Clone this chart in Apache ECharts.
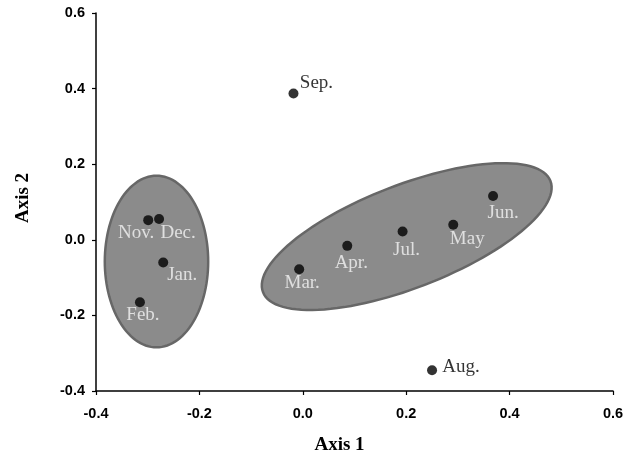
<!DOCTYPE html>
<html>
<head>
<meta charset="utf-8">
<script src="https://cdn.jsdelivr.net/npm/echarts@6/dist/echarts.min.js"></script>
<style>
  html, body { margin: 0; padding: 0; background: #fff; }
  #chart { width: 636px; height: 454px; }
</style>
</head>
<body>
<div id="chart"></div>
<script>
// points (month, axis 1, axis 2)
const months = ["Sep.", "Nov.", "Dec.", "Jan.", "Feb.", "Mar.", "Apr.", "Jul.", "May", "Jun.", "Aug."];
const axis1 = [-0.018, -0.299, -0.278, -0.270, -0.315, -0.007, 0.086, 0.193, 0.291, 0.368, 0.250];
const axis2 = [0.387, 0.052, 0.055, -0.060, -0.165, -0.078, -0.016, 0.022, 0.040, 0.116, -0.345];

// group ellipses: centre + two conjugate half-axes, in data units
const ellipseCenters = [[-0.283, -0.0575], [0.201, 0.0085]];
const ellipseU = [[0.100, 0], [0.278, 0.147]];
const ellipseV = [[0, 0.227], [0.036, -0.127]];

// label placement (pixels, relative to the dot)
const labelOffsets = {
  "Sep.": [23, -10], "Nov.": [-12, 13], "Dec.": [19, 14], "Jan.": [19, 13],
  "Feb.": [3, 13], "Mar.": [3, 14], "Apr.": [4, 17], "Jul.": [4, 19],
  "May": [14, 14], "Jun.": [10, 17], "Aug.": [29, -3]
};
const outside = ["Sep.", "Aug."];

const chart = echarts.init(document.getElementById("chart"));

const points = months.map(function (m, i) {
  return {
    value: [axis1[i], axis2[i]],
    name: m,
    label: {
      offset: labelOffsets[m],
      color: outside.indexOf(m) >= 0 ? "#000" : "#f4f4f4"
    }
  };
});

const axisCommon = {
  type: "value",
  min: -0.4,
  max: 0.6,
  interval: 0.2,
  splitLine: { show: false },
  axisLine: { show: true, onZero: false, lineStyle: { color: "#000", width: 1.5 } },
  axisTick: { show: true, length: 4, lineStyle: { color: "#000", width: 1.2 } },
  axisLabel: {
    color: "#000",
    fontFamily: "Liberation Sans, Arial, sans-serif",
    fontWeight: "bold",
    fontSize: 14.5,
    formatter: function (v) { return v.toFixed(1); }
  },
  nameLocation: "middle",
  nameTextStyle: {
    color: "#000",
    fontFamily: "Liberation Serif, Times New Roman, serif",
    fontWeight: "bold",
    fontSize: 19
  }
};

const option = {
  animation: false,
  backgroundColor: "#fff",
  grid: { left: 96, right: 23, top: 13, bottom: 63, outerBoundsMode: "none" },
  xAxis: Object.assign({}, axisCommon, {
    name: "Axis 1",
    nameGap: 45,
    axisLabel: Object.assign({}, axisCommon.axisLabel, { margin: 15 }),
    nameTextStyle: Object.assign({}, axisCommon.nameTextStyle, { padding: [0, 30, 0, 0] })
  }),
  yAxis: Object.assign({}, axisCommon, {
    name: "Axis 2",
    nameGap: 63,
    axisLabel: Object.assign({}, axisCommon.axisLabel, { margin: 11 }),
    nameTextStyle: Object.assign({}, axisCommon.nameTextStyle, { padding: [0, 0, 0, 8] })
  }),
  series: [
    {
      type: "custom",
      data: ellipseCenters,
      encode: { x: 0, y: 1 },
      z: 1,
      renderItem: function (params, api) {
        const c = ellipseCenters[params.dataIndex];
        const u = ellipseU[params.dataIndex];
        const v = ellipseV[params.dataIndex];
        const pts = [];
        for (let k = 0; k < 120; k++) {
          const t = (k / 120) * Math.PI * 2;
          pts.push(api.coord([
            c[0] + Math.cos(t) * u[0] + Math.sin(t) * v[0],
            c[1] + Math.cos(t) * u[1] + Math.sin(t) * v[1]
          ]));
        }
        return {
          type: "polygon",
          shape: { points: pts },
          style: { fill: "#8b8b8b", stroke: "#676767", lineWidth: 2.5 }
        };
      }
    },
    {
      type: "scatter",
      z: 3,
      symbolSize: 10,
      itemStyle: { color: "#000" },
      data: points,
      label: {
        show: true,
        position: "inside",
        formatter: "{b}",
        fontFamily: "Liberation Serif, Times New Roman, serif",
        fontSize: 19
      }
    }
  ]
};

chart.setOption(option);
</script>
</body>
</html>
